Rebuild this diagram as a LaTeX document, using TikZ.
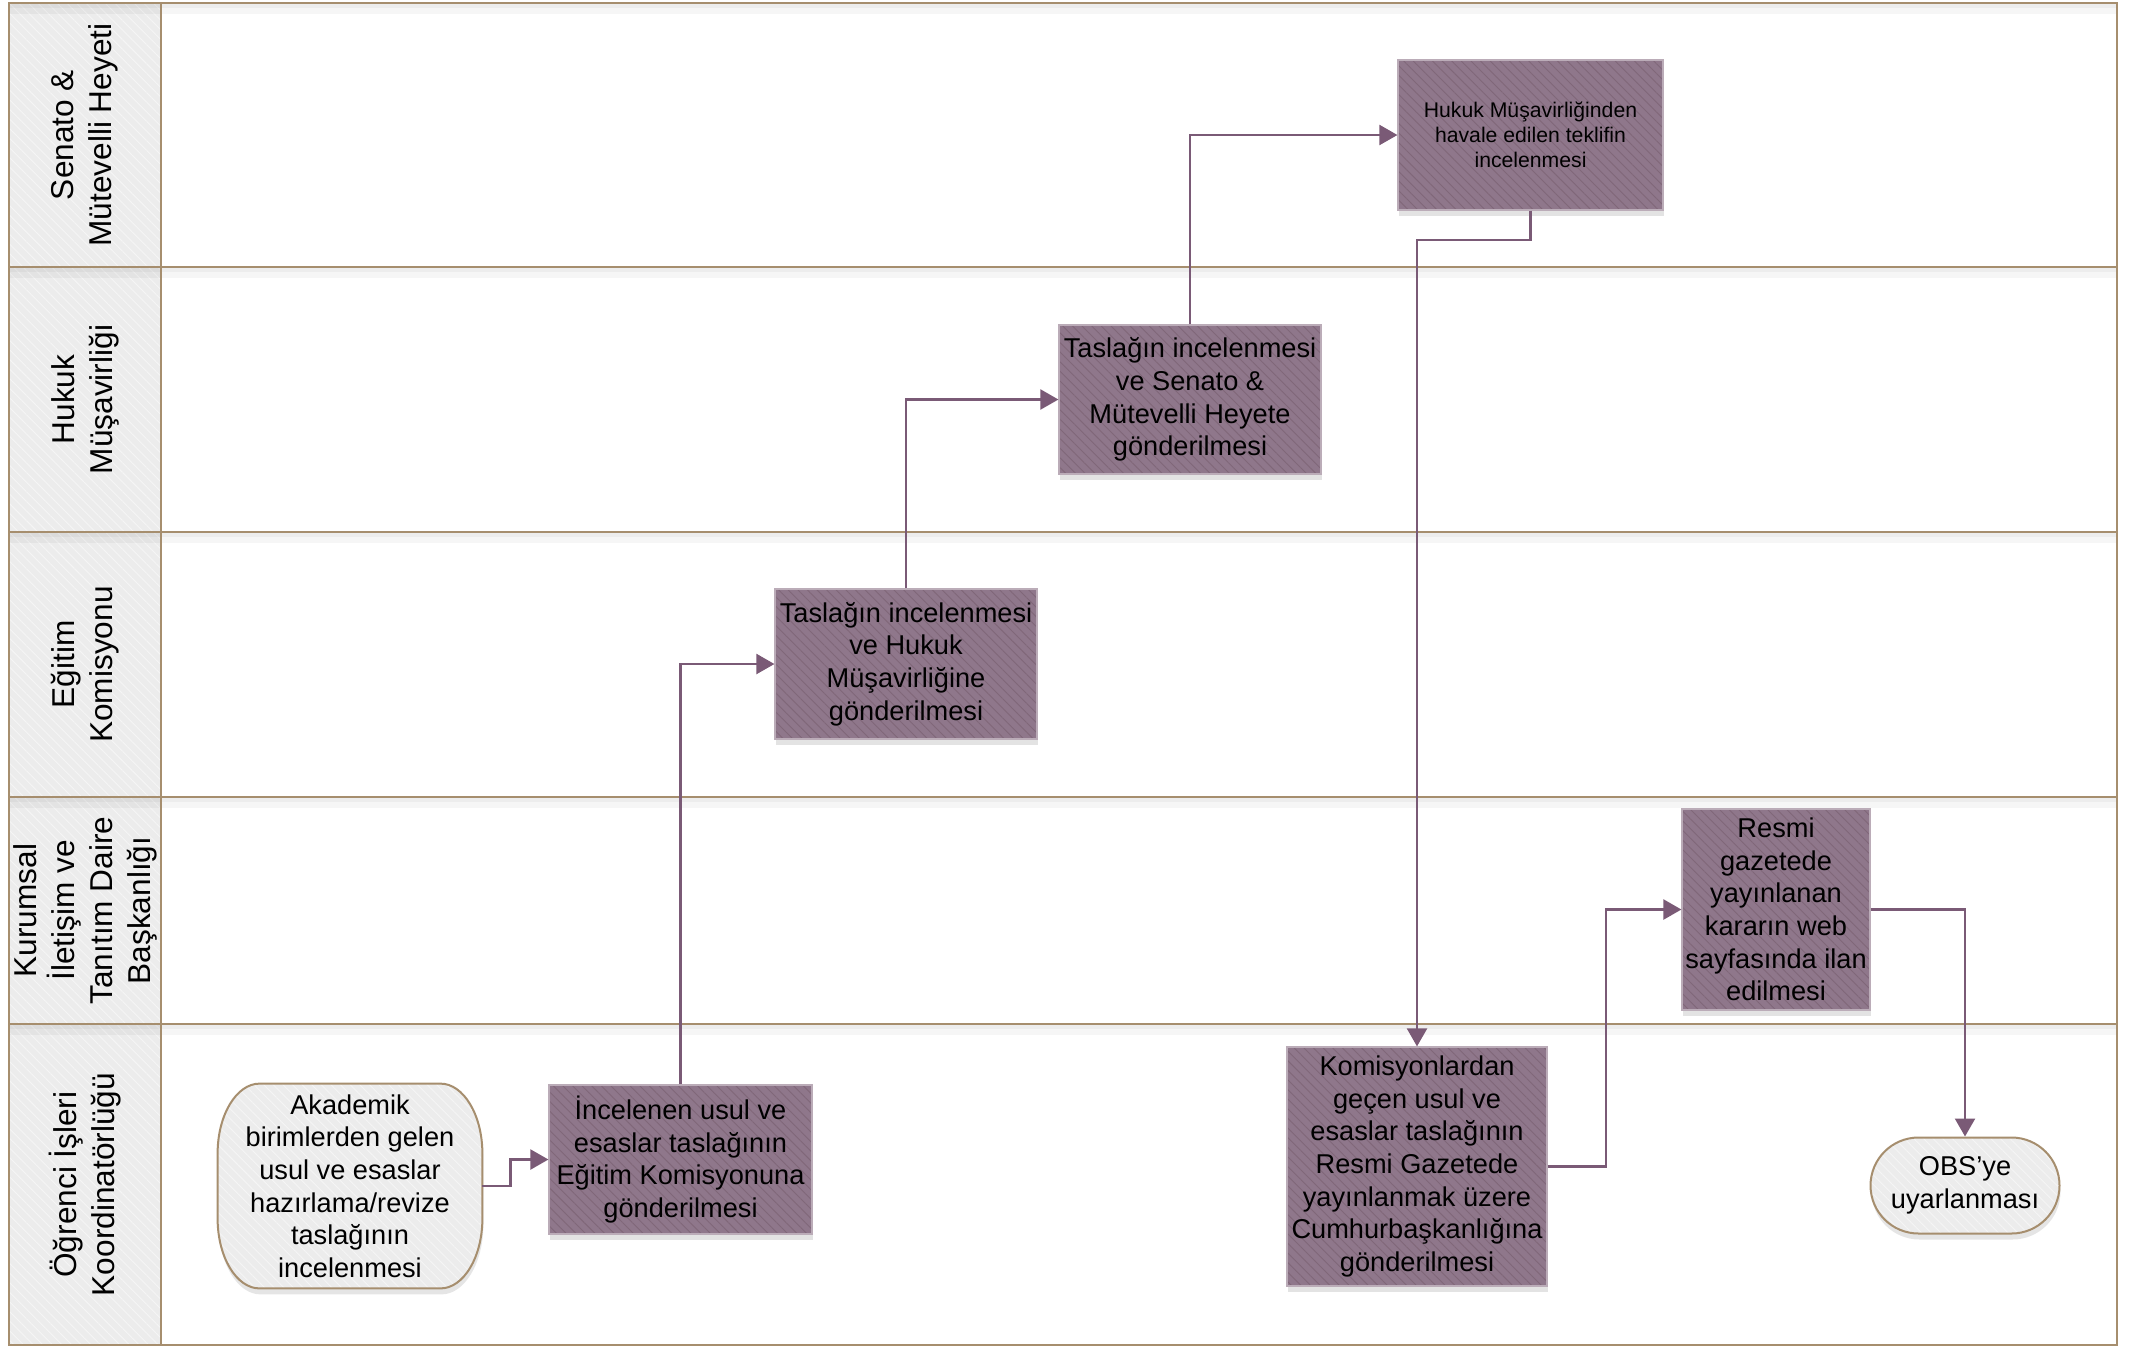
\documentclass[tikz,border=0pt]{standalone}
\usepackage{fontspec}
\setmainfont{Liberation Sans}
\usetikzlibrary{arrows.meta,patterns.meta,shadows,calc}
\pgfdeclarelayer{base}
\pgfdeclarelayer{bg}
\pgfsetlayers{base,bg,main}
\definecolor{boxfill}{HTML}{8F778B}
\definecolor{boxhatch}{HTML}{806779}
\definecolor{boxline}{HTML}{BBACB8}
\definecolor{connc}{HTML}{7A5A76}
\definecolor{lanec}{HTML}{A68E6E}
\definecolor{headfill}{HTML}{ECECEC}
\definecolor{headhatch}{HTML}{F5F5F5}
\tikzset{
  procbox/.style={rectangle, inner sep=0pt, align=center, draw=boxline, line width=0.6pt,
    drop shadow={shadow xshift=0.5pt, shadow yshift=-3pt, opacity=0.22},
    preaction={fill=boxfill},
    pattern={Lines[angle=-45,distance=3.4pt,line width=0.45pt]}, pattern color=boxhatch,
    font=\fontsize{13.6}{16.3}\selectfont},
  smallproc/.style={procbox, font=\fontsize{10.6}{12.5}\selectfont},
  termfill/.style={draw=lanec, line width=1pt,
    drop shadow={shadow xshift=0.5pt, shadow yshift=-3pt, opacity=0.2},
    preaction={fill=headfill},
    pattern={Lines[angle=-45,distance=3.4pt,line width=0.45pt]}, pattern color=headhatch},
  termtext/.style={rectangle, inner sep=0pt, align=center, font=\fontsize{13.6}{16.3}\selectfont},
  obsbox/.style={termfill, termtext, rounded corners=24pt},
  headbox/.style={preaction={fill=headfill},
    pattern={Lines[angle=-45,distance=3.4pt,line width=0.45pt]}, pattern color=headhatch},
  headtext/.style={rotate=90, align=center, inner sep=0pt, font=\fontsize{15.8}{19}\selectfont},
  lanerule/.style={draw=lanec, line width=1.2pt},
  connector/.style={draw=connc, line width=1.1pt, -{Triangle[length=9pt,width=10pt]}},
}
\begin{document}
\begin{tikzpicture}[x=0.5pt,y=-0.5pt]
\useasboundingbox (0,0) rectangle (2129,1350);
\begin{pgfonlayer}{base}
\fill[white] (0,0) rectangle (2129,1350);
% lanes
\foreach \ya/\yb in {3/267,267/532,532/797,797/1024,1024/1345}{
  \path[headbox] (9,\ya) rectangle (161,\yb);
  \fill[black,opacity=0.07] (9,\ya) rectangle (2117,\ya+5);
  \fill[black,opacity=0.035] (9,\ya+5) rectangle (2117,\ya+11);
}
\foreach \y in {267,532,797,1024}{
  \draw[lanerule] (9,\y) -- (2117,\y);
}
\draw[lanerule] (161,3) -- (161,1345);
\draw[lanerule] (9,3) rectangle (2117,1345);
\end{pgfonlayer}

% lane headers
\node[headtext] (h1) at (85,135) {Senato \&\\Mütevelli Heyeti};
\node[headtext] (h2) at (85,399.5) {Hukuk\\Müşavirliği};
\node[headtext] (h3) at (85,664.5) {Eğitim\\Komisyonu};
\node[headtext] (h4) at (85,910.5) {Kurumsal\\İletişim ve\\Tanıtım Daire\\Başkanlığı};
\node[headtext] (h5) at (85,1184.5) {Öğrenci İşleri\\Koordinatörlüğü};

% process boxes
\node[smallproc, minimum width=132.5pt, minimum height=75pt] (senato) at (1530.5,135)
  {Hukuk Müşavirliğinden\\havale edilen teklifin\\incelenmesi};
\node[procbox, minimum width=131pt, minimum height=74.5pt] (hukuk) at (1190,399.5)
  {Taslağın incelenmesi\\ve Senato \&\\Mütevelli Heyete\\gönderilmesi};
\node[procbox, minimum width=131pt, minimum height=75pt] (egitim) at (906,664)
  {Taslağın incelenmesi\\ve Hukuk\\Müşavirliğine\\gönderilmesi};
\node[procbox, minimum width=94pt, minimum height=100.5pt] (kurumsal) at (1776,909.5)
  {Resmi\\gazetede\\yayınlanan\\kararın web\\sayfasında ilan\\edilmesi};
\node[procbox, minimum width=131.5pt, minimum height=74.5pt] (incelenen) at (680.5,1159.5)
  {İncelenen usul ve\\esaslar taslağının\\Eğitim Komisyonuna\\gönderilmesi};
\node[procbox, minimum width=130pt, minimum height=119.5pt] (komisyon) at (1417,1166.5)
  {Komisyonlardan\\geçen usul ve\\esaslar taslağının\\Resmi Gazetede\\yayınlanmak üzere\\Cumhurbaşkanlığına\\gönderilmesi};

% terminals
\node[termtext, minimum width=132pt, minimum height=102pt] (start) at (350,1186)
  {Akademik\\birimlerden gelen\\usul ve esaslar\\hazırlama/revize\\taslağının\\incelenmesi};
\begin{pgfonlayer}{bg}
\path[termfill] ([xshift=21pt]start.north west) -- ([xshift=-21pt]start.north east)
  .. controls ([xshift=-9.4pt]start.north east) and ([yshift=-15.7pt]start.north east) .. ([yshift=-35pt]start.north east)
  -- ([yshift=35pt]start.south east)
  .. controls ([yshift=15.7pt]start.south east) and ([xshift=-9.4pt]start.south east) .. ([xshift=-21pt]start.south east)
  -- ([xshift=21pt]start.south west)
  .. controls ([xshift=9.4pt]start.south west) and ([yshift=15.7pt]start.south west) .. ([yshift=35pt]start.south west)
  -- ([yshift=-35pt]start.north west)
  .. controls ([yshift=-15.7pt]start.north west) and ([xshift=9.4pt]start.north west) .. ([xshift=21pt]start.north west)
  -- cycle;
\end{pgfonlayer}
\node[obsbox, minimum width=94.5pt, minimum height=48pt] (obs) at (1965,1185.5)
  {OBS’ye\\uyarlanması};

% connectors
\draw[connector] (start.east) -- ++(28,0) |- (incelenen.west);
\draw[connector] (incelenen.north) |- (egitim.west);
\draw[connector] (egitim.north) |- (hukuk.west);
\draw[connector] (hukuk.north) |- (senato.west);
\draw[connector] (senato.south) -- ++(0,29) -| (komisyon.north);
\draw[connector] (komisyon.east) -- ++(58,0) |- (kurumsal.west);
\draw[connector] (kurumsal.east) -| (obs.north);
\end{tikzpicture}
\end{document}
